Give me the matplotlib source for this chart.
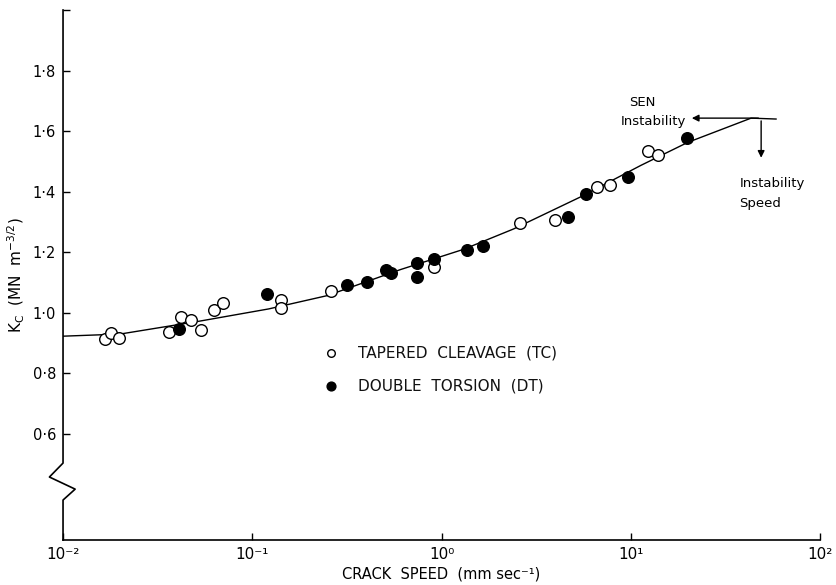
import numpy as np
import matplotlib
matplotlib.use("Agg")
import matplotlib.pyplot as plt
import matplotlib.transforms as mtransforms

# ---- data ----
tc_speed = [0.0167, 0.0180, 0.0198, 0.0364, 0.0421, 0.0475, 0.0537, 0.0629, 0.0703,
            0.142, 0.142, 0.262, 0.908, 2.59, 3.96, 6.61, 7.74, 12.3, 13.9]
tc_kc = [0.913, 0.933, 0.917, 0.937, 0.987, 0.977, 0.943, 1.010, 1.033,
         1.043, 1.017, 1.073, 1.150, 1.297, 1.307, 1.417, 1.423, 1.533, 1.520]

dt_speed = [0.0411, 0.120, 0.318, 0.406, 0.506, 0.543, 0.738, 0.738, 0.908,
            1.37, 1.65, 4.64, 5.78, 9.64, 19.8]
dt_kc = [0.947, 1.063, 1.093, 1.103, 1.143, 1.130, 1.163, 1.117, 1.177,
         1.207, 1.220, 1.317, 1.393, 1.450, 1.577]

curve_speed = [0.01, 0.020, 0.053, 0.122, 0.249, 0.607, 1.31, 2.40, 5.43, 11.3, 20.0, 43.2, 58.5]
curve_kc = [0.923, 0.930, 0.973, 1.013, 1.057, 1.143, 1.21, 1.277, 1.383, 1.487, 1.563, 1.643, 1.640]

x_ticks = [1e-2, 1e-1, 1e0, 1e1, 1e2]
x_ticklabels = ["10⁻²", "10⁻¹", "10⁰", "10¹", "10²"]
y_ticks = [0.6, 0.8, 1.0, 1.2, 1.4, 1.6, 1.8, 2.0]
y_ticklabels = ["0·6", "0·8", "1·0", "1·2", "1·4", "1·6", "1·8", ""]

instab_speed = 48.8
instab_kc = 1.643
sen_arrow_end = 20.3
speed_arrow_end = 1.503

plt.rcParams['font.family'] = ['DejaVu Sans']
fig = plt.figure(figsize=(8.36, 5.85), dpi=100)
ax = fig.add_axes([0.0754, 0.0769, 0.9056, 0.906])

ax.set_xscale('log')
ax.set_xlim(1e-2, 1e2)
ax.set_ylim(0.25, 2.0)

ax.plot(curve_speed, curve_kc, color='black', lw=1.0, zorder=1)
ax.scatter(tc_speed, tc_kc, s=70, facecolor='white', edgecolor='black', linewidth=1.0, zorder=3)
ax.scatter(dt_speed, dt_kc, s=70, facecolor='black', edgecolor='black', linewidth=1.0, zorder=3)

ax.set_xticks(x_ticks)
ax.set_xticklabels(x_ticklabels, fontsize=11)
ax.xaxis.set_minor_locator(matplotlib.ticker.NullLocator())
ax.set_yticks(y_ticks)
ax.set_yticklabels(y_ticklabels, fontsize=10.5)
ax.tick_params(direction='in', length=5, width=1, colors='black', pad=5)
ax.tick_params(axis='x', pad=5)

for s in ['top', 'right']:
    ax.spines[s].set_visible(False)
ax.spines['left'].set_visible(False)
ax.spines['bottom'].set_linewidth(1.2)

# left spine with axis break
trans = mtransforms.blended_transform_factory(ax.transAxes, ax.transData)
bx = [0, 0, -0.018, 0.016, 0, 0]
by = [2.0, 0.504, 0.458, 0.418, 0.382, 0.25]
ax.plot(bx, by, transform=trans, color='black', lw=1.2, clip_on=False, zorder=2)

# legend text
ax.scatter([0.26], [0.868], s=30, facecolor='white', edgecolor='black', zorder=3)
ax.scatter([0.26], [0.759], s=40, facecolor='black', edgecolor='black', zorder=3)
ax.text(0.36, 0.868, "TAPERED  CLEAVAGE  (TC)", fontsize=11, va='center', ha='left', color='#111111')
ax.text(0.36, 0.759, "DOUBLE  TORSION  (DT)", fontsize=11, va='center', ha='left', color='#111111')

# instability arrows
ax.annotate("", xy=(sen_arrow_end, instab_kc), xytext=(instab_speed, instab_kc),
            arrowprops=dict(arrowstyle='-|>', color='black', lw=1.0, mutation_scale=10))
ax.annotate("", xy=(instab_speed, speed_arrow_end), xytext=(instab_speed, instab_kc),
            arrowprops=dict(arrowstyle='-|>', color='black', lw=1.0, mutation_scale=10))
ax.text(9.75, 1.695, "SEN", fontsize=9.5, ha='left', va='center')
ax.text(8.85, 1.632, "Instability", fontsize=9.5, ha='left', va='center')
ax.text(56, 1.427, "Instability", fontsize=9.5, ha='center', va='center')
ax.text(48, 1.36, "Speed", fontsize=9.5, ha='center', va='center')

ax.set_xlabel("CRACK  SPEED  (mm sec⁻¹)", fontsize=10.5, labelpad=3)
ax.set_ylabel(r"K$_\mathrm{C}$  (MN  m$^{-3/2}$)", fontsize=11, labelpad=4)

fig.savefig("out.png", dpi=100)
